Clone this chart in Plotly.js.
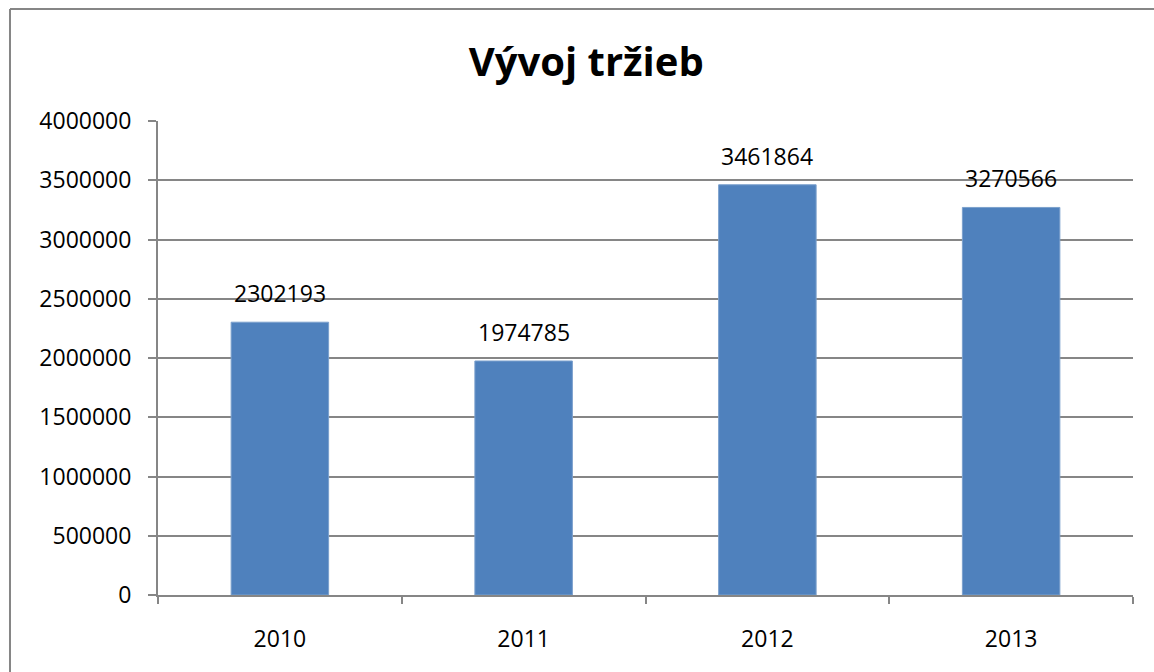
<!DOCTYPE html>
<html>
<head>
<meta charset="utf-8">
<script src="https://cdn.plot.ly/plotly-3.0.1.min.js"></script>
<style>html,body{margin:0;padding:0;background:#fff;} #chart{width:1154px;height:672px;}</style>
</head>
<body>
<div id="chart"></div>
<script>
const years = ['2010', '2011', '2012', '2013'];
const revenues = [2302193, 1974785, 3461864, 3270566];
const yTicks = [0, 500000, 1000000, 1500000, 2000000, 2500000, 3000000, 3500000, 4000000];
const titleText = 'Vývoj tržieb';

const FONT = 'Open Sans, Noto Sans, sans-serif';

const trace = {
  type: 'bar',
  x: years,
  y: revenues,
  width: 0.4,
  marker: {color: '#4F81BD', line: {color: '#7BA0CD', width: 1}},
  hoverinfo: 'x+y'
};

const annotations = years.map((yr, i) => ({
  x: i, y: revenues[i], xref: 'x', yref: 'y',
  text: String(revenues[i]), showarrow: false,
  yanchor: 'bottom', yshift: 11,
  font: {family: FONT, size: 23, color: '#000'}
}));

const layout = {
  width: 1154, height: 672,
  margin: {l: 158, r: 21, t: 121, b: 77},
  paper_bgcolor: '#fff', plot_bgcolor: '#fff',
  showlegend: false,
  bargap: 0.6,
  title: {text: '<b>' + titleText + '</b>', x: 0.508, xref: 'container', y: 0.907, yref: 'container',
          yanchor: 'middle', xanchor: 'center', font: {family: FONT, size: 40, color: '#000'}},
  xaxis: {
    type: 'category', range: [-0.5, 3.5], autorange: false,
    tickson: 'boundaries', ticks: 'outside', ticklen: 7, tickwidth: 2, tickangle: 0,
    tickcolor: '#868686', showline: true, linecolor: '#868686', linewidth: 2,
    showgrid: false, tickfont: {family: FONT, size: 23, color: '#000'}, ticklabelstandoff: 22,
    fixedrange: true
  },
  yaxis: {
    range: [0, 4000000], autorange: false, tickvals: yTicks, ticktext: yTicks.map(String),
    ticks: 'outside', ticklen: 8, tickwidth: 2, tickcolor: '#868686',
    showline: true, linecolor: '#868686', linewidth: 2,
    showgrid: true, gridcolor: '#868686', gridwidth: 2, zeroline: false,
    tickfont: {family: FONT, size: 23, color: '#000'}, ticklabelstandoff: 12, fixedrange: true
  },
  annotations: annotations,
  shapes: [
    {type: 'line', xref: 'paper', yref: 'paper', x0: -0.1518, x1: 1.03, y0: 1.2363, y1: 1.2363,
     line: {color: '#868686', width: 2}},
    {type: 'line', xref: 'paper', yref: 'paper', x0: -0.1518, x1: -0.1518, y0: 1.2363, y1: -0.2,
     line: {color: '#868686', width: 2}}
  ]
};

Plotly.newPlot('chart', [trace], layout, {displayModeBar: false, staticPlot: true});
</script>
</body>
</html>
